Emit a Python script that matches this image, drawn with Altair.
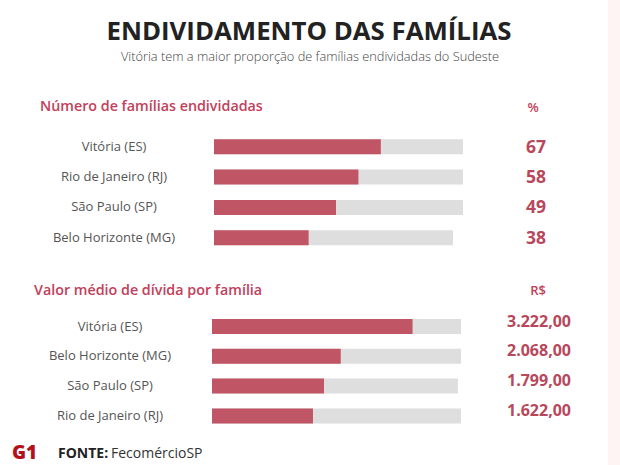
import altair as alt
import pandas as pd

# ---------------- data ----------------
title_text = "ENDIVIDAMENTO DAS FAMÍLIAS"
subtitle_text = "Vitória tem a maior proporção de famílias endividadas do Sudeste"

header1 = "Número de famílias endividadas"
unit1 = "%"
cities_pct = ["Vitória (ES)", "Rio de Janeiro (RJ)", "São Paulo (SP)", "Belo Horizonte (MG)"]
pct_values = [67, 58, 49, 38]
pct_track = [100, 100, 100, 96]
pct_labels = ["67", "58", "49", "38"]

header2 = "Valor médio de dívida por família"
unit2 = "R$"
cities_rs = ["Vitória (ES)", "Belo Horizonte (MG)", "São Paulo (SP)", "Rio de Janeiro (RJ)"]
rs_values = [3222, 2068, 1799, 1622]
rs_track = [4000, 4000, 3950, 4000]
rs_labels = ["3.222,00", "2.068,00", "1.799,00", "1.622,00"]

source_bold = "FONTE:"
source_text = "FecomércioSP"
logo_text = "G1"

# ---------------- style ----------------
FONT = "Open Sans"
RED = "#c05565"
GRAY = "#dedede"
TXT_RED = "#b8475c"
HDR_RED = "#c2405a"
LABEL = "#555555"

W, H = 620, 465


def one_row():
    return pd.DataFrame({"k": [0]})


def section(cities, values, track, labels, xmax, xrange, yrange,
            label_x, value_x, value_dy, value_size):
    df = pd.DataFrame({"city": cities, "value": values, "track": track, "label": labels})
    base = alt.Chart(df)
    xs = alt.Scale(domain=[0, xmax], range=xrange, nice=False, zero=True)
    y = alt.Y("city:N", sort=cities, axis=None,
              scale=alt.Scale(range=yrange, paddingInner=0, paddingOuter=0))
    bg = base.mark_bar(size=15, color=GRAY).encode(
        x=alt.X("track:Q", scale=xs, axis=None), y=y)
    fg = base.mark_bar(size=15, color=RED).encode(
        x=alt.X("value:Q", scale=xs, axis=None), y=y)
    names = base.mark_text(font=FONT, fontSize=13, color=LABEL, align="center",
                           baseline="middle").encode(
        x=alt.value(label_x), y=y, text="city:N")
    vals = base.mark_text(font=FONT, fontSize=value_size, fontWeight="bold", color=TXT_RED,
                          align="center", baseline="middle", dy=value_dy).encode(
        x=alt.value(value_x), y=y, text="label:N")
    return alt.layer(bg, fg, names, vals)


sec1 = section(cities_pct, pct_values, pct_track, pct_labels, 100, [214, 463],
               [131.5, 252.9], 114, 536, 1, 17.5)
sec2 = section(cities_rs, rs_values, rs_track, rs_labels, 4000, [212, 461],
               [311.6, 430.8], 110, 539, -5, 16)

strip = alt.Chart(one_row()).mark_rect(color="#fff4f4").encode(
    x=alt.value(608), x2=alt.value(620), y=alt.value(0), y2=alt.value(465))


def txt(text, x, y, size, color, weight="normal", align="left", font=FONT):
    return alt.Chart(one_row()).mark_text(
        font=font, fontSize=size, fontWeight=weight, color=color,
        align=align, baseline="alphabetic").encode(
        x=alt.value(x), y=alt.value(y), text=alt.value(text))


title = txt(title_text, 309, 40, 25.8, "#222222", "bold", "center")
subtitle = txt(subtitle_text, 310, 61, 12.8, "#444444", 300, "center")
h1 = txt(header1, 40, 111, 14.3, HDR_RED, 600)
u1 = txt(unit1, 533, 112, 13, HDR_RED, 600, "center")
h2 = txt(header2, 34, 295, 14.3, HDR_RED, 600)
u2 = txt(unit2, 538, 295, 13, HDR_RED, 600, "center")
logo = txt(logo_text, 12, 459, 19, "#b3121c", 900)
src1 = txt(source_bold, 58, 458, 14, "#222222", "bold")
src2 = txt(source_text, 111, 458, 14, "#333333", "normal")

chart = alt.layer(
    strip, sec1, sec2, title, subtitle, h1, u1, h2, u2, logo, src1, src2
).resolve_scale(x="independent", y="independent").properties(
    width=W, height=H, autosize=alt.AutoSizeParams(type="none"), padding=0,
    background="white"
).configure_view(stroke=None)

chart.save("out.html", embed_options={"renderer": "svg", "actions": False})
